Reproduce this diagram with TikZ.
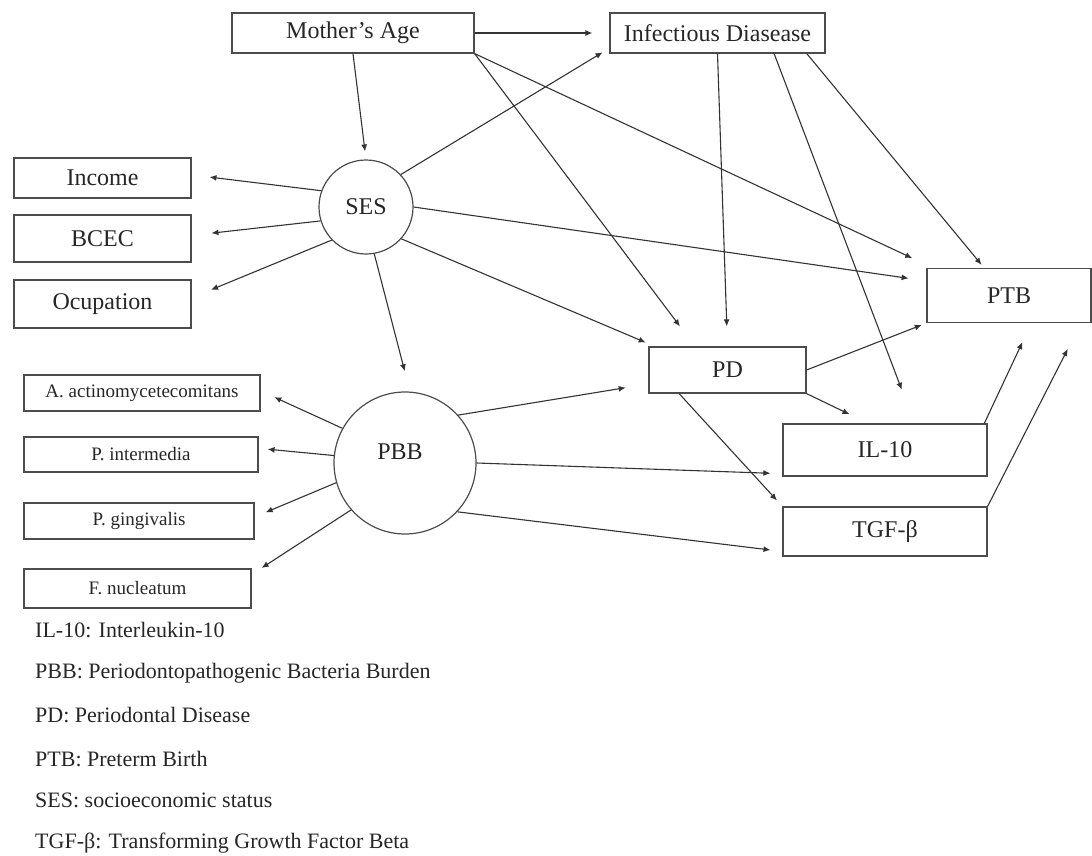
\documentclass[tikz,border=0pt]{standalone}
\usepackage{fontspec}
\setmainfont{Liberation Serif}
\usetikzlibrary{arrows.meta}

\tikzset{
  box/.style={draw=black!70, line width=1.2pt, rectangle, inner sep=0pt, text=black!85,
    font=\fontsize{24}{28}\selectfont},
  smallbox/.style={box, font=\fontsize{19}{22}\selectfont},
  latent/.style={draw=black!70, line width=1.2pt, circle, inner sep=0pt, text=black!85,
    font=\fontsize{24}{28}\selectfont},
  link/.style={draw=black!80, line width=1.1pt, -{Latex[length=7pt,width=6pt]}},
  legend/.style={anchor=west, inner sep=0pt, text=black!85, font=\fontsize{22}{26}\selectfont}
}

\begin{document}
\begin{tikzpicture}[x=1pt,y=-1pt]
\useasboundingbox (0,0) rectangle (1092,856);
% top row
\node[box, minimum width=242pt, minimum height=40pt] (mage) at (353,33) {Mother’s Age};
\node[box, minimum width=215pt, minimum height=40pt] (infd) at (717.5,33) {Infectious Diasease};
% SES and its indicators
\node[box, minimum width=177pt, minimum height=40pt] (income) at (102.5,178) {Income};
\node[box, minimum width=177pt, minimum height=47pt] (bcec) at (102.5,238.5) {BCEC};
\node[box, minimum width=177pt, minimum height=48pt] (ocup) at (102.5,304) {Ocupation};
\node[latent, minimum size=94pt] (ses) at (366,207) {SES};
% outcomes
\node[box, minimum width=164pt, minimum height=54pt] (ptb) at (1009,295.5) {PTB};
\node[box, minimum width=157pt, minimum height=46pt] (pd) at (727.5,370) {PD};
\node[box, minimum width=204pt, minimum height=52pt] (il10) at (885,450) {IL-10};
\node[box, minimum width=204pt, minimum height=49pt] (tgf) at (885,531.5) {TGF-β};
% PBB and the bacteria
\node[latent, minimum size=142pt,
  label={[font=\fontsize{24}{28}\selectfont, text=black!85, xshift=-5pt, yshift=11pt]center:PBB}] (pbb) at (405,463) {};
\node[smallbox, minimum width=236pt, minimum height=36pt] (aact) at (142,393) {A. actinomycetecomitans};
\node[smallbox, minimum width=234pt, minimum height=35pt] (pint) at (141,454.5) {P. intermedia};
\node[smallbox, minimum width=230pt, minimum height=36pt] (pgin) at (139,521) {P. gingivalis};
\node[smallbox, minimum width=227pt, minimum height=39pt] (fnuc) at (137.5,588.5) {F. nucleatum};

% paths
\draw[link, shorten >=17pt] (mage.east) -- (infd.west);
\draw[link, shorten >=8pt] (mage.south) -- (ses.north);
\draw[link, shorten >=25pt] (mage.south east) -- (pd.144);
\draw[link, shorten >=23pt] (mage.south east) -- (ptb.160);
\draw[link, shorten >=20pt] (infd.south) -- (pd.north);
\draw[link, shorten >=36pt] (infd.-20) -- (il10.42);
\draw[link, shorten >=4pt] (infd.-13) -- (ptb.132);
\draw[link, shorten >=8pt] (ses.43) -- (infd.188);
\draw[link, shorten >=18pt] (ses.160) -- (income.2);
\draw[link, shorten >=20pt] (ses.197) -- (bcec.2);
\draw[link, shorten >=21pt] (ses.224) -- (ocup.4);
\draw[link, shorten >=18pt] (ses.east) -- (ptb.170);
\draw[link, shorten >=10pt] (ses.-42) -- (pd.162);
\draw[link, shorten >=21pt] (ses.-80) -- (pbb.86);
\draw[link, shorten >=5pt] (pd.east) -- (ptb.south west);
\draw[link, shorten >=21pt] (pd.south east) -- (il10.122);
\draw[link, shorten >=8pt] (pd.206) -- (tgf.north west);
\draw[link, shorten >=21pt] (il10.15) -- (ptb.-51);
\draw[link, shorten >=29pt] (tgf.north east) -- (ptb.-21);
\draw[link, shorten >=23pt] (pbb.42) -- (pd.190);
\draw[link, shorten >=12pt] (pbb.east) -- (il10.193);
\draw[link, shorten >=12pt] (pbb.-43) -- (tgf.191);
\draw[link, shorten >=15pt] (pbb.151) -- (aact.1);
\draw[link, shorten >=9pt] (pbb.174) -- (pint.3);
\draw[link, shorten >=12pt] (pbb.196) -- (pgin.2);
\draw[link, shorten >=12pt] (pbb.221) -- (fnuc.7);

% abbreviations
\node[legend] (leg1) at (35,630) {IL-10: Interleukin-10};
\node[legend] (leg2) at (35,673) {PBB: Periodontopathogenic Bacteria Burden};
\node[legend] (leg3) at (35,715) {PD: Periodontal Disease};
\node[legend] (leg4) at (35,759) {PTB: Preterm Birth};
\node[legend] (leg5) at (35,800) {SES: socioeconomic status};
\node[legend] (leg6) at (35,843) {TGF-β: Transforming Growth Factor Beta};
\end{tikzpicture}
\end{document}
